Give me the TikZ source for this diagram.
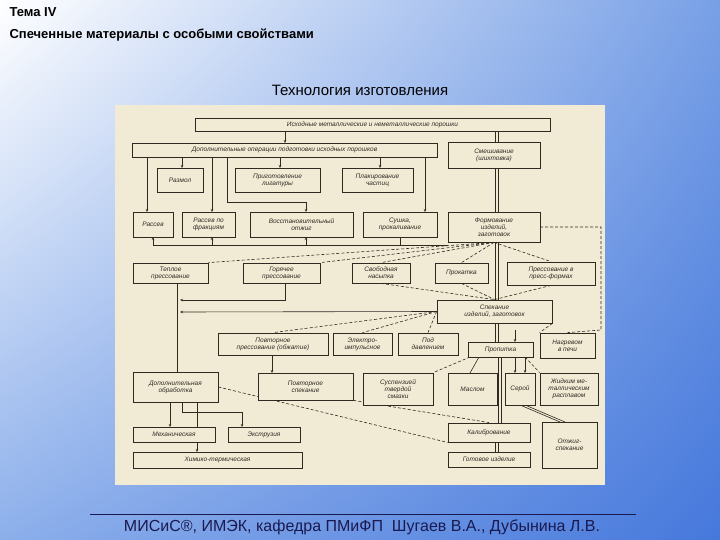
\documentclass[tikz,border=0pt]{standalone}
\usepackage{fontspec}
\setmainfont{Liberation Sans}
\usetikzlibrary{arrows.meta,shadings}
\pgfdeclarelayer{bgzero}\pgfdeclarelayer{bgone}
\pgfsetlayers{bgzero,bgone,main}
\definecolor{scan}{HTML}{F1EBD6}
\definecolor{ink}{HTML}{2E2A22}
\definecolor{navy}{HTML}{1A1A50}
\definecolor{bgA}{RGB}{120,160,230}
\definecolor{bgB}{RGB}{140,175,235}
\definecolor{bgC}{RGB}{70,120,220}
\begin{document}
\begin{tikzpicture}[x=1pt,y=-1pt,
  bx/.style={draw=ink,line width=0.8pt,fill=scan,inner sep=0pt,align=center,font=\fontsize{6.5}{7}\selectfont\itshape,text=ink},
  ln/.style={draw=ink,line width=0.6pt},
  ar/.style={ln,-{Stealth[length=3pt,width=2.5pt]}},
  dl/.style={ln,dashed,dash pattern=on 3pt off 2pt}]
\useasboundingbox (0,0) rectangle (720,540);
\begin{pgfonlayer}{bgzero}
\shade[upper left=white,upper right=bgA,lower left=bgB,lower right=bgC] (0,0) rectangle (720,540);
\fill[scan] (115,105) rectangle (605,485);
\end{pgfonlayer}
\node[anchor=west,font=\bfseries\fontsize{13}{15}\selectfont] (t1) at (6,12) {Тема IV};
\node[anchor=west,font=\bfseries\fontsize{13}{15}\selectfont] (t2) at (6,35) {Спеченные материалы с особыми свойствами};
\node[font=\fontsize{15}{17}\selectfont] (t3) at (360,90) {Технология изготовления};
\newcommand{\bxx}[6]{\node[bx,minimum width=#4-#2,minimum height=#5-#3] (#1) at ({(#2+#4)/2},{(#3+#5)/2}) {#6};}
\newcommand{\dbv}[3]{\draw[ln] (#1-1.3,#2) -- (#1-1.3,#3); \draw[ln] (#1+1.3,#2) -- (#1+1.3,#3);}
\bxx{top}{195}{118}{550}{131}{Исходные металлические и неметаллические порошки}
\bxx{dop}{132}{143}{437}{157}{Дополнительные операции подготовки исходных порошков}
\bxx{sm}{448}{142}{540}{168}{Смешивание\\(шихтовка)}
\bxx{raz}{157}{168}{203}{192}{Размол}
\bxx{lig}{235}{168}{320}{192}{Приготовление\\лигатуры}
\bxx{pla}{342}{168}{413}{192}{Плакирование\\частиц}
\bxx{ras}{133}{212}{173}{237}{Рассев}
\bxx{rf}{182}{212}{235}{237}{Рассев по\\фракциям}
\bxx{vos}{250}{212}{353}{237}{Восстановительный\\отжиг}
\bxx{su}{363}{212}{437}{237}{Сушка,\\прокаливание}
\bxx{form}{448}{212}{540}{242}{Формование\\изделий,\\заготовок}
\bxx{tep}{133}{263}{208}{283}{Теплое\\прессование}
\bxx{gor}{243}{263}{320}{283}{Горячее\\прессование}
\bxx{svo}{352}{263}{410}{283}{Свободная\\насыпка}
\bxx{pro}{435}{263}{488}{283}{Прокатка}
\bxx{ppf}{507}{262}{595}{285}{Прессование в\\пресс-формах}
\bxx{sp}{437}{300}{552}{323}{Спекание\\изделий, заготовок}
\bxx{pov}{218}{333}{328}{355}{Повторное\\прессование (обжатие)}
\bxx{el}{333}{333}{392}{355}{Электро-\\импульсное}
\bxx{pd}{398}{333}{458}{355}{Под\\давлением}
\bxx{prop}{468}{342}{533}{357}{Пропитка}
\bxx{nag}{540}{333}{595}{358}{Нагревом\\в печи}
\bxx{dob}{133}{372}{218}{402}{Дополнительная\\обработка}
\bxx{psp}{258}{373}{353}{400}{Повторное\\спекание}
\bxx{sus}{363}{373}{433}{405}{Суспензией\\твердой\\смазки}
\bxx{mas}{448}{373}{497}{405}{Маслом}
\bxx{ser}{505}{373}{535}{405}{Серой}
\bxx{zhi}{540}{373}{598}{405}{Жидким ме-\\таллическим\\расплавом}
\bxx{meh}{133}{427}{215}{442}{Механическая}
\bxx{eks}{228}{427}{300}{442}{Экструзия}
\bxx{him}{133}{452}{302}{468}{Химико-термическая}
\bxx{kal}{448}{423}{530}{442}{Калибрование}
\bxx{got}{448}{452}{530}{467}{Готовое изделие}
\bxx{otz}{542}{422}{597}{468}{Отжиг-\\спекание}
\begin{pgfonlayer}{bgone}
\draw[ar] (285,131) -- (285,143);
\dbv{497}{131}{142}
\draw[ar] (182,157) -- (182,168);
\draw[ar] (280,157) -- (280,168);
\draw[ar] (380,157) -- (380,168);
\draw[ar] (147,157) -- (147,212);
\draw[ar] (212,157) -- (212,212);
\draw[ar] (425,157) -- (425,212);
\draw[ln] (227,157) |- (306,202); \draw[ar] (306,202) -- (306,212);
\dbv{497}{168}{212}
\coordinate (h1) at (153,245); \coordinate (h2) at (448,245);
\draw[ln] (h1) -- (h2);
\draw[ar] (h1) -- (153,237);
\draw[ar] (212,245) -- (212,237);
\draw[ar] (306,245) -- (306,237);
\draw[ln] (400,237) -- (400,245);
\draw[dl] (540,227) -- (601,227) -- (601,330) -- (nag.north);
\draw[dl] (form.south) -- (tep.north east);
\draw[dl] (form.south) -- (gor.north east);
\draw[dl] (form.south) -- (svo.north);
\draw[dl] (form.south) -- (pro.north);
\draw[dl] (form.south) -- (ppf.north);
\dbv{497}{242}{300}
\draw[dl] (svo.south) -- (sp.north);
\draw[dl] (pro.south) -- (sp.north);
\draw[dl] (ppf.south) -- (sp.north);
\draw[ln] (177,283) -- (177,372);
\draw[ln] (285,283) |- (185,300); \draw[ar] (200,300) -- (180,300);
\draw[ar] (sp.west) -- (180,312);
\draw[dl] (sp.west) -- (pov.north);
\draw[dl] (sp.west) -- (el.north);
\draw[dl] (sp.west) -- (pd.north);
\draw[dl] (sp.south east) -- (nag.north west);
\dbv{497}{323}{342}
\draw[ar] (515,330) -- (515,342);
\draw[ar] (272,355) -- (272,373);
\draw[ln] (479,357) -- (470,373);
\draw[dl] (470,357) -- (sus.north east);
\draw[dl] (525,357) -- (zhi.north west);
\draw[ar] (515,357) -- (515,373);
\draw[ar] (525,357) -- (525,373);
\dbv{500}{357}{423}
\draw[dl] (dob.east) -- (kal.south west);
\draw[dl] (psp.south east) -- (kal.north);
\draw[ar] (170,402) -- (170,427);
\draw[ln] (182,402) |- (242,412); \draw[ar] (242,412) -- (242,427);
\draw[ar] (197,402) -- (197,452);
\dbv{497}{442}{452}
\draw[ln] (520,405) -- (560,422);
\draw[ln] (525,405) -- (565,422);
\end{pgfonlayer}
\draw[navy,line width=0.6pt] (90,514) -- (636,514);
\node[font=\fontsize{16}{18}\selectfont,text=navy] (ft) at (362,527) {МИСиС®, ИМЭК, кафедра ПМиФП\ \ Шугаев В.А., Дубынина Л.В.};
\end{tikzpicture}
\end{document}
